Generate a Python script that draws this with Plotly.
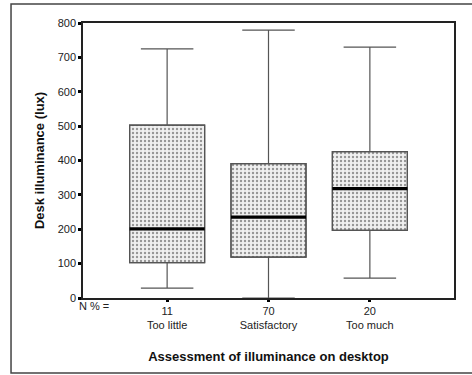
import plotly.graph_objects as go

categories = ["Too little", "Satisfactory", "Too much"]
n_percent = ["11", "70", "20"]
lower_whisker = [29, 0, 58]
q1_values = [103, 119, 197]
median_values = [201, 235, 318]
q3_values = [503, 391, 426]
upper_whisker = [725, 779, 730]
y_ticks = [0, 100, 200, 300, 400, 500, 600, 700, 800]

xpos = list(range(len(categories)))
box_w = 0.74

fig = go.Figure()

# patterned box fill (IQR) as bars
fig.add_trace(go.Bar(
    x=xpos,
    y=[q3 - q1 for q1, q3 in zip(q1_values, q3_values)],
    base=q1_values,
    width=box_w,
    marker=dict(
        color="#ececec",
        line=dict(color="#444444", width=1.2),
        pattern=dict(shape=".", fgcolor="#3c3c3c", bgcolor="#f0f0f0",
                     size=4, solidity=0.28, fillmode="overlay"),
    ),
    hoverinfo="skip",
    showlegend=False,
))

# whiskers via library box trace
fig.add_trace(go.Box(
    x=xpos,
    q1=q1_values,
    median=median_values,
    q3=q3_values,
    lowerfence=lower_whisker,
    upperfence=upper_whisker,
    width=box_w,
    whiskerwidth=0.7,
    fillcolor="rgba(0,0,0,0)",
    line=dict(color="#555555", width=1.2),
    showlegend=False,
    hoverinfo="skip",
))

# thick median lines
mx, my = [], []
for i, m in zip(xpos, median_values):
    mx += [i - box_w / 2, i + box_w / 2, None]
    my += [m, m, None]
fig.add_trace(go.Scatter(x=mx, y=my, mode="lines",
                         line=dict(color="#000000", width=3.2),
                         showlegend=False, hoverinfo="skip"))

# outer frame
fig.add_shape(type="rect", xref="paper", yref="paper",
              x0=-0.194, x1=1.06, y0=-0.273, y1=1.069,
              line=dict(color="#444444", width=1.5), layer="below")

fig.add_annotation(text="N % =", xref="paper", yref="paper",
                   x=-0.016, y=-0.03, xanchor="left", yanchor="middle",
                   showarrow=False,
                   font=dict(family="Liberation Sans, Arial", size=11, color="#222222"))

fig.update_layout(
    width=472, height=375,
    margin=dict(l=83, r=18, t=23, b=77),
    paper_bgcolor="white", plot_bgcolor="white",
    barmode="overlay", boxmode="overlay",
    font=dict(family="Liberation Sans, Arial", size=11, color="#222222"),
    xaxis=dict(
        range=[-0.83, 2.83],
        tickvals=xpos,
        ticktext=[f"{n}<br>{c}" for n, c in zip(n_percent, categories)],
        ticks="outside", ticklen=2, tickwidth=3, tickcolor="#000",
        showline=True, linecolor="#222222", linewidth=1.5, mirror=True,
        showgrid=False, zeroline=False,
        title=dict(text="<b>Assessment of illuminance on desktop</b>",
                   font=dict(size=13, color="#111111"), standoff=22),
    ),
    yaxis=dict(
        range=[0, 800],
        tickvals=y_ticks,
        ticks="outside", ticklen=3, tickwidth=3, tickcolor="#000",
        showline=True, linecolor="#222222", linewidth=1.5, mirror=True,
        showgrid=False, zeroline=False,
        title=dict(text="<b>Desk illuminance (lux)</b>",
                   font=dict(size=13, color="#111111"), standoff=10),
    ),
)

fig.write_html("out.html",
               config={"displayModeBar": False},
               post_script="document.body.style.margin='0';document.body.style.overflow='hidden';")
